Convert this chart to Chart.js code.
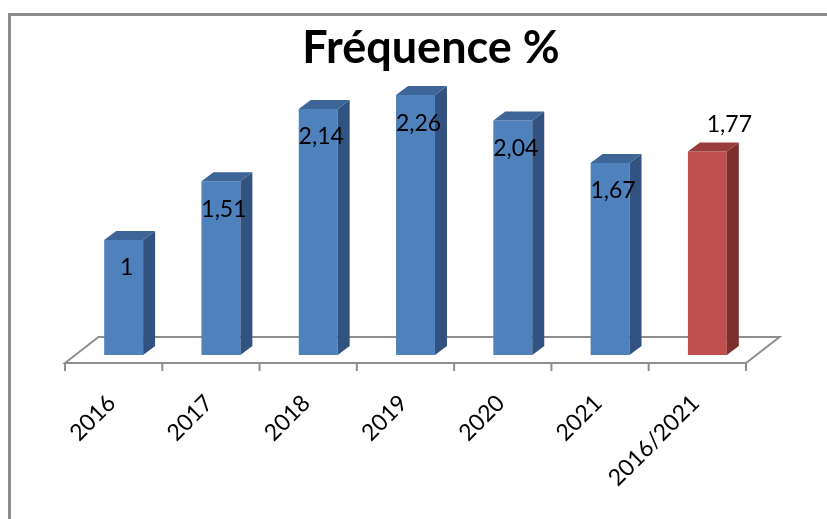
<!DOCTYPE html>
<html lang="fr">
<head>
<meta charset="utf-8">
<title>Fréquence %</title>
<script src="https://cdn.jsdelivr.net/npm/chart.js@4.4.1/dist/chart.umd.min.js"></script>
<style>
  html, body { margin: 0; padding: 0; background: #fff; overflow: hidden; }
  #wrap { position: relative; width: 827px; height: 519px; }
  /* cadre gris de la zone de graphique (coupé à droite et en bas) */
  #frame {
    position: absolute; left: 8px; top: 13px; width: 840px; height: 530px;
    border-left: 3px solid #8c8c8c; border-top: 3px solid #8c8c8c;
    box-sizing: border-box;
  }
  #chart { position: absolute; left: 0; top: 0; }
</style>
</head>
<body>
<div id="wrap">
  <div id="frame"></div>
  <canvas id="chart" width="827" height="519"></canvas>
</div>
<script>
// ---- données ----
const CATEGORIES = ['2016', '2017', '2018', '2019', '2020', '2021', '2016/2021'];
const FREQUENCES = [1, 1.51, 2.14, 2.26, 2.04, 1.67, 1.77];
const TITLE = 'Fréquence %';

// ---- styles ----
const BLUE = { front: '#4f81bd', side: '#325381', top: '#3d6598' };
const RED = { front: '#c0504d', side: '#7c302e', top: '#983d3a' };
const FACES = CATEGORIES.map(function (c, i) {
  return i === CATEGORIES.length - 1 ? RED : BLUE;
});
const DEPTH = { dx: 12, dy: -9 };           // profondeur des barres
const FLOOR = { fdx: -10, fdy: 8, bdx: 23.5, bdy: -18 }; // sol 3D
const FONT = 'Lato, "Open Sans", sans-serif';

// sol, ombrage des barres et étiquettes
const bar3d = {
  id: 'bar3d',
  beforeDatasetsDraw(chart) {
    const ctx = chart.ctx;
    const xs = chart.scales.x;
    const ys = chart.scales.y;
    const step = xs.getPixelForValue(1) - xs.getPixelForValue(0);
    const y0 = ys.getPixelForValue(0);
    const n = CATEGORIES.length;
    const left = xs.getPixelForValue(0) - step / 2;
    const fl = left + FLOOR.fdx, fr = fl + n * step, fy = y0 + FLOOR.fdy;
    const bl = left + FLOOR.bdx, br = bl + n * step, by = y0 + FLOOR.bdy;

    ctx.save();
    ctx.strokeStyle = '#8e8e8e';
    ctx.lineWidth = 2;
    ctx.fillStyle = '#fff';
    ctx.beginPath();
    ctx.moveTo(fl, fy);
    ctx.lineTo(bl, by);
    ctx.lineTo(br, by);
    ctx.lineTo(fr, fy);
    ctx.closePath();
    ctx.fill();
    ctx.stroke();
    // graduations
    ctx.beginPath();
    for (let i = 0; i <= n; i++) {
      const x = fl + i * step;
      ctx.moveTo(x, fy);
      ctx.lineTo(x, fy + 8);
    }
    ctx.stroke();
    ctx.restore();
  },
  afterDatasetsDraw(chart) {
    const ctx = chart.ctx;
    const meta = chart.getDatasetMeta(0);
    ctx.save();
    meta.data.forEach(function (el, i) {
      const p = el.getProps(['x', 'y', 'base', 'width'], true);
      const l = p.x - p.width / 2, r = p.x + p.width / 2;
      const f = FACES[i];
      // côté
      ctx.fillStyle = f.side;
      ctx.beginPath();
      ctx.moveTo(r, p.y);
      ctx.lineTo(r + DEPTH.dx, p.y + DEPTH.dy);
      ctx.lineTo(r + DEPTH.dx, p.base + DEPTH.dy);
      ctx.lineTo(r, p.base);
      ctx.closePath();
      ctx.fill();
      // dessus
      ctx.fillStyle = f.top;
      ctx.beginPath();
      ctx.moveTo(l, p.y);
      ctx.lineTo(l + DEPTH.dx, p.y + DEPTH.dy);
      ctx.lineTo(r + DEPTH.dx, p.y + DEPTH.dy);
      ctx.lineTo(r, p.y);
      ctx.closePath();
      ctx.fill();

      // étiquette de valeur
      const txt = String(FREQUENCES[i]).replace('.', ',');
      const outside = i === CATEGORIES.length - 1;
      ctx.fillStyle = '#000';
      ctx.font = '23px ' + FONT;
      ctx.textAlign = 'center';
      ctx.textBaseline = 'middle';
      if (outside) {
        ctx.fillText(txt, p.x + 22, p.y - 27);
      } else {
        ctx.fillText(txt, p.x + 3, p.y + 28);
      }
    });
    ctx.restore();
  }
};

const chart = new Chart(document.getElementById('chart'), {
  type: 'bar',
  data: {
    labels: CATEGORIES,
    datasets: [{
      data: FREQUENCES,
      backgroundColor: FACES.map(function (f) { return f.front; }),
      borderWidth: 0,
      barPercentage: 0.4,
      categoryPercentage: 1
    }]
  },
  options: {
    responsive: false,
    animation: false,
    layout: { padding: { left: 75, right: 40, top: 0, bottom: 0 } },
    plugins: {
      legend: { display: false },
      tooltip: { enabled: false },
      title: {
        display: true,
        text: TITLE,
        color: '#000',
        font: { family: FONT, size: 45, weight: 'bold', lineHeight: 1.2 },
        padding: { top: 21.5, bottom: 3.5 }
      }
    },
    scales: {
      x: {
        grid: { display: false, drawTicks: false },
        border: { display: false },
        ticks: {
          autoSkip: false,
          minRotation: 45,
          maxRotation: 45,
          labelOffset: -12,
          padding: 34.5,
          color: '#000',
          font: { family: FONT, size: 23 }
        },
        afterFit: function (scale) { scale.height = 164; }
      },
      y: {
        position: 'right',
        min: 0,
        max: 2.4,
        grid: { display: false, drawTicks: false },
        border: { display: false },
        ticks: { display: false },
        afterFit: function (scale) { scale.width = 31; }
      }
    }
  },
  plugins: [bar3d]
});
</script>
</body>
</html>
